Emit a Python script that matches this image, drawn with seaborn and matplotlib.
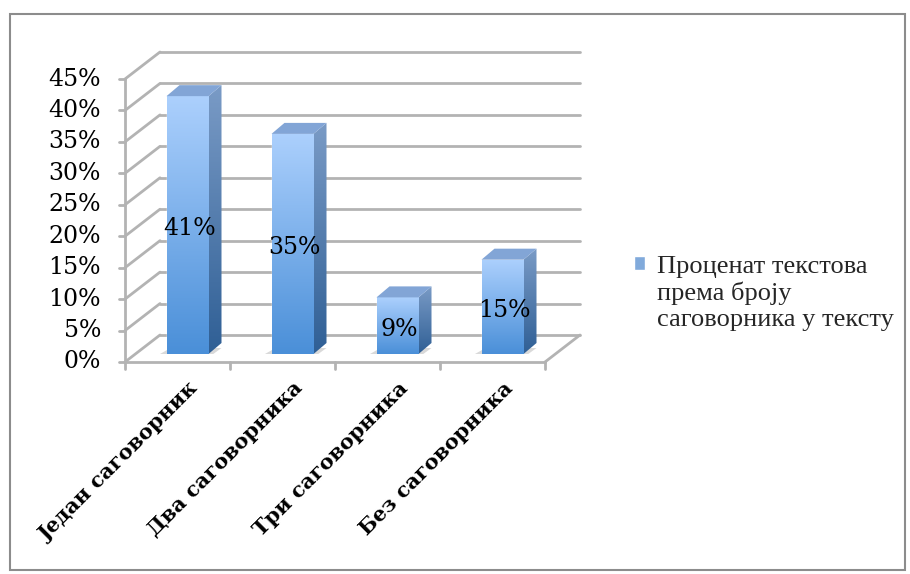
import numpy as np
import seaborn as sns
import matplotlib.pyplot as plt
from matplotlib.colors import LinearSegmentedColormap
from matplotlib.patches import Polygon, Rectangle
from matplotlib.transforms import ScaledTranslation, IdentityTransform

categories = ["Један саговорник", "Два саговорника", "Три саговорника", "Без саговорника"]
values = [0.41, 0.35, 0.09, 0.15]
bar_labels = ["41%", "35%", "9%", "15%"]
series_name = "Проценат текстова\nпрема броју\nсаговорника у тексту"
y_ticks = [0, 0.05, 0.10, 0.15, 0.20, 0.25, 0.30, 0.35, 0.40, 0.45]
y_tick_labels = ["0%", "5%", "10%", "15%", "20%", "25%", "30%", "35%", "40%", "45%"]

W, H = 910, 574
GRID = "#b3b3b3"

sns.set_theme(style="white")
plt.rcParams["font.family"] = ["DejaVu Serif"]

fig = plt.figure(figsize=(W / 100, H / 100), dpi=100)
ax = fig.add_axes([135 / W, 220 / H, 420 / W, 283 / H])
sns.barplot(x=categories, y=values, color="#72a9ea", width=0.4,
            label=series_name, ax=ax)
ax.set_xlim(-0.5, 3.5)
ax.set_ylim(0, 0.45)
ax.axis("off")

# pseudo 3D planes: front (axis) plane and back wall, offset from bar plane
px = fig.dpi_scale_trans
front = ax.transData + ScaledTranslation(-10 / 100, -8 / 100, px)
back = ax.transData + ScaledTranslation(25 / 100, 19 / 100, px)
ident = IdentityTransform()


def seg(p, q, **kw):
    ax.add_line(plt.Line2D([p[0], q[0]], [p[1], q[1]], transform=ident,
                           color=GRID, lw=2, clip_on=False, **kw))


for t, lab in zip(y_ticks, y_tick_labels):
    ax.plot([-0.5, 3.5], [t, t], transform=back, color=GRID, lw=2,
            clip_on=False, zorder=0.5)
    f = front.transform((-0.5, t))
    b = back.transform((-0.5, t))
    seg(f, b, zorder=0.5)
    seg(f, (f[0] - 6, f[1]), zorder=0.5)
    ax.text(f[0] - 24, f[1], lab, transform=ident, ha="right", va="center",
            fontsize=17, color="black")

# front axis lines and floor edge
f0 = front.transform((-0.5, 0))
f1 = front.transform((-0.5, 0.45))
seg(f0, f1, zorder=0.5)
fr = front.transform((3.5, 0))
seg(f0, fr, zorder=0.5)
seg(fr, back.transform((3.5, 0)), zorder=0.5)
for x in np.arange(-0.5, 4.0, 1.0):
    p = front.transform((x, 0))
    seg(p, (p[0], p[1] - 7), zorder=0.5)

for i, lab in enumerate(categories):
    p = front.transform((i, 0))
    ax.text(p[0] + 10, p[1] - 16, lab, transform=ident, rotation=45,
            rotation_mode="anchor", ha="right", va="top", fontsize=15,
            fontweight="bold", color="black")

# gradient bars with side and top faces
front_cmap = LinearSegmentedColormap.from_list("f", ["#4a8fd8", "#acd0fd"])
side_cmap = LinearSegmentedColormap.from_list("s", ["#2f5f95", "#7a9bc6"])
grad = np.linspace(0, 1, 256).reshape(-1, 1)
inv = ax.transData.inverted()
dx, dy = 13, 11
for patch, lab in zip(ax.patches, bar_labels):
    x0, y0 = patch.get_x(), patch.get_y()
    x1, y1 = x0 + patch.get_width(), y0 + patch.get_height()
    im = ax.imshow(grad, cmap=front_cmap, origin="lower", aspect="auto",
                   extent=(x0, x1, y0, y1), zorder=2)
    im.set_clip_path(patch)
    bl = ax.transData.transform((x0, y0))
    tr = ax.transData.transform((x1, y1))
    # soft floor shadow
    sh = Polygon([(bl[0] - 10, bl[1] - 2), (bl[0] + 4, bl[1] + 6),
                  (tr[0] + dx, bl[1] + 6), (tr[0] + 2, bl[1] - 2)],
                 closed=True, transform=ident, fc="#d9d9d9", ec="none",
                 zorder=1)
    ax.add_patch(sh)
    side = Polygon([(tr[0], bl[1]), (tr[0] + dx, bl[1] + dy),
                    (tr[0] + dx, tr[1] + dy), (tr[0], tr[1])],
                   closed=True, transform=ident, fc="none", ec="none")
    ax.add_patch(side)
    sx0, sy0 = inv.transform((tr[0], bl[1]))
    sx1, sy1 = inv.transform((tr[0] + dx, tr[1] + dy))
    sim = ax.imshow(grad, cmap=side_cmap, origin="lower", aspect="auto",
                    extent=(sx0, sx1, sy0, sy1), zorder=2)
    sim.set_clip_path(side)
    top = Polygon([(bl[0], tr[1]), (bl[0] + dx, tr[1] + dy),
                   (tr[0] + dx, tr[1] + dy), (tr[0], tr[1])],
                  closed=True, transform=ident, fc="#82a5d6", ec="none",
                  zorder=2.1)
    ax.add_patch(top)
    ax.text((x0 + x1) / 2 + 0.02, y1 / 2 - 0.006, lab, ha="center",
            va="center", fontsize=17, color="black", zorder=3)

ax.set_xlim(-0.5, 3.5)
ax.set_ylim(0, 0.45)

leg = ax.legend(loc="upper left", bbox_to_anchor=(634 / W, 1 - 256 / H),
                bbox_transform=fig.transFigure, frameon=False,
                prop={"family": "Liberation Serif", "size": 19},
                handlelength=0.42, handleheight=0.42, handletextpad=0.45,
                borderpad=0, borderaxespad=0)
for col in leg._legend_handle_box.get_children():
    for item in col.get_children():
        item.align = "top"

fig.add_artist(Rectangle((10 / W, 4 / H), 895 / W, 556 / H,
                         transform=fig.transFigure, fill=False,
                         ec="#8c8c8c", lw=1.5))

fig.savefig("out.png", dpi=100)
